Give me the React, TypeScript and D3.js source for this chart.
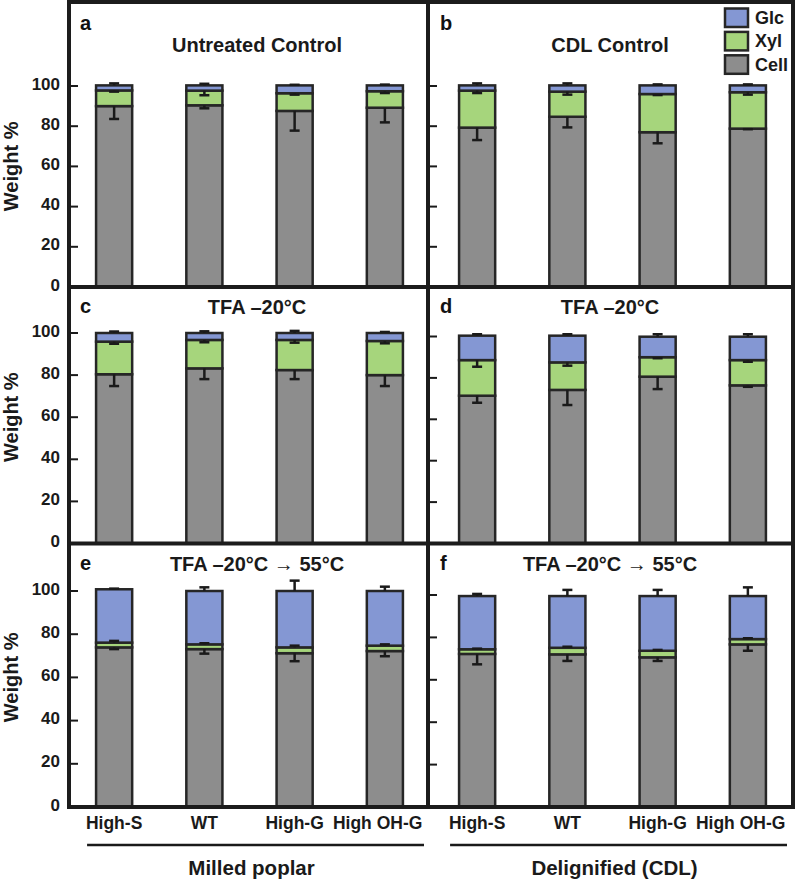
import React from "react";
import * as d3 from "d3";

const categories = ["High-S", "WT", "High-G", "High OH-G"];
const panelLetters = ["a", "b", "c", "d", "e", "f"];
const panelTitles = [
  "Untreated Control",
  "CDL Control",
  "TFA \u201320\u00B0C",
  "TFA \u201320\u00B0C",
  "TFA \u201320\u00B0C \u2192 55\u00B0C",
  "TFA \u201320\u00B0C \u2192 55\u00B0C",
];
const groupLabels = ["Milled poplar", "Delignified (CDL)"];
const seriesNames = ["Glc", "Xyl", "Cell"];
const yTicks = [0, 20, 40, 60, 80, 100];

// segment values (weight %) per panel, per category
const cellValues = [
  [90.0, 90.4, 87.6, 89.2],
  [79.3, 84.7, 77.0, 78.8],
  [80.4, 83.2, 82.4, 80.0],
  [71.4, 74.2, 80.6, 76.4],
  [73.9, 73.1, 71.2, 72.2],
  [72.2, 72.0, 70.6, 76.7],
];
const xylValues = [
  [7.8, 7.3, 8.8, 8.2],
  [18.4, 12.5, 19.0, 18.1],
  [15.5, 13.5, 14.3, 16.2],
  [17.2, 13.3, 9.4, 12.2],
  [2.2, 2.2, 2.7, 2.5],
  [2.2, 3.1, 3.1, 2.5],
];
const glcValues = [
  [2.5, 2.6, 3.9, 2.9],
  [2.6, 3.1, 4.3, 3.4],
  [4.1, 3.3, 3.3, 3.8],
  [11.8, 12.9, 9.9, 11.3],
  [24.7, 24.7, 26.1, 25.3],
  [25.1, 24.4, 25.8, 20.3],
];
// error bars (signed: negative drawn downward, positive upward)
const cellErrors = [
  [-6.4, -1.5, -9.8, -7.3],
  [-6.2, -5.3, -5.5, -0.3],
  [-5.6, -5.1, -4.3, -5.2],
  [-3.4, -7.3, -6.0, -0.7],
  [-0.8, -2.1, -3.7, -2.4],
  [-4.9, -3.1, -1.7, -3.0],
];
const xylErrors = [
  [-0.6, -2.3, -0.7, -0.9],
  [-1.2, -1.5, -0.5, -1.2],
  [-1.0, -1.1, -1.3, -1.1],
  [-3.2, -1.6, -0.5, -0.8],
  [0.8, 0.5, 0.8, 0.6],
  [0.3, 0.5, 0.4, 0.4],
];
const glcErrors = [
  [1.0, 0.8, 0.3, 0.4],
  [1.0, 1.0, 0.5, 0.5],
  [0.7, 0.8, 1.0, 0.5],
  [0.7, 0.7, 1.2, 1.2],
  [0.3, 1.7, 4.8, 2.0],
  [1.0, 2.9, 2.9, 4.1],
];

const COLORS: Record<string, string> = {
  Glc: "#8497d3",
  Xyl: "#a6d57c",
  Cell: "#8d8d8d",
};
const STROKE = "#262626";
const FONT = "'Liberation Sans', Arial, Helvetica, sans-serif";

// layout
const W = 797;
const H = 879;
const columns = [
  { x0: 69, x1: 430, axisX: 69, titleX: 257, letterX: 80 },
  { x0: 432, x1: 793, axisX: 428, titleX: 610, letterX: 440 },
];
const rows = [
  { yTop: 2, letterY: 30, titleY: 52, y0: [287, 287], y100: [86, 86] },
  { yTop: 287, letterY: 313, titleY: 314, y0: [543.5, 543.5], y100: [333, 336.5] },
  { yTop: 543.5, letterY: 570, titleY: 571, y0: [807, 807], y100: [591, 595] },
];

function Panel({ p }: { p: number }) {
  const col = columns[p % 2];
  const row = rows[Math.floor(p / 2)];
  const x = d3
    .scaleBand<string>()
    .domain(categories)
    .range([col.x0, col.x1])
    .paddingInner(0.6)
    .paddingOuter(0.3);
  const y = d3
    .scaleLinear()
    .domain([0, 100])
    .range([row.y0[p % 2], row.y100[p % 2]]);
  const bw = x.bandwidth();
  const stack = categories.map((c, i) => {
    const cell = cellValues[p][i];
    const xyl = xylValues[p][i];
    const glc = glcValues[p][i];
    return [
      { key: "Cell", lo: 0, hi: cell, err: cellErrors[p][i] },
      { key: "Xyl", lo: cell, hi: cell + xyl, err: xylErrors[p][i] },
      { key: "Glc", lo: cell + xyl, hi: cell + xyl + glc, err: glcErrors[p][i] },
    ];
  });
  return (
    <g>
      {categories.map((c, i) => (
        <g key={c}>
          {stack[i].map((s) => (
            <rect
              key={s.key}
              x={x(c)!}
              width={bw}
              y={y(s.hi)}
              height={y(s.lo) - y(s.hi)}
              fill={COLORS[s.key]}
              stroke={STROKE}
              strokeWidth={2.5}
            />
          ))}
          {stack[i].map((s) => {
            const cx = x(c)! + bw / 2;
            const yA = y(s.hi);
            const yB = y(s.hi + s.err);
            return (
              <g key={"e" + s.key} stroke="#1a1a1a" strokeWidth={2.5}>
                <line x1={cx} x2={cx} y1={yA} y2={yB} />
                <line x1={cx - 5} x2={cx + 5} y1={yB} y2={yB} />
              </g>
            );
          })}
        </g>
      ))}
      {yTicks.map((t) => (
        <line
          key={"t" + t}
          x1={col.axisX + 2}
          x2={col.axisX + 9}
          y1={y(t)}
          y2={y(t)}
          stroke="#1a1a1a"
          strokeWidth={2}
        />
      ))}
      {p % 2 === 0 &&
        yTicks.map((t) => (
          <text
            key={"l" + t}
            x={60}
            y={y(t) - 2}
            textAnchor="end"
            dominantBaseline="central"
            fontSize={17}
            fontWeight="bold"
            fontFamily={FONT}
            fill="#1a1a1a"
          >
            {t}
          </text>
        ))}
      {p % 2 === 0 && (
        <text
          transform={`translate(11,${y(60)}) rotate(-90)`}
          textAnchor="middle"
          dominantBaseline="central"
          fontSize={20}
          fontWeight="bold"
          fontFamily={FONT}
          fill="#1a1a1a"
        >
          Weight %
        </text>
      )}
      <text
        x={col.letterX}
        y={row.letterY}
        fontSize={20}
        fontWeight="bold"
        fontFamily={FONT}
        fill="#111"
      >
        {panelLetters[p]}
      </text>
      <text
        x={col.titleX}
        y={row.titleY}
        textAnchor="middle"
        fontSize={20}
        fontWeight="bold"
        fontFamily={FONT}
        fill="#1a1a1a"
      >
        {panelTitles[p]}
      </text>
      {p >= 4 &&
        categories.map((c) => {
          const lw = c.length * 10.3;
          let cx = x(c)! + bw / 2;
          if (cx + lw / 2 > col.x1 - 6) cx = col.x1 - 6 - lw / 2;
          return (
            <text
              key={"c" + c}
              x={cx}
              y={829}
              textAnchor="middle"
              fontSize={17.5}
              fontWeight="bold"
              fontFamily={FONT}
              fill="#1a1a1a"
            >
              {c}
            </text>
          );
        })}
      {p >= 4 && (
        <g>
          <line
            x1={x(categories[0])! - 9}
            x2={col.x1 - 6}
            y1={845}
            y2={845}
            stroke="#1a1a1a"
            strokeWidth={2.5}
          />
          <text
            x={(x(categories[0])! - 9 + col.x1 - 6) / 2 - 4}
            y={875}
            textAnchor="middle"
            fontSize={20.5}
            fontWeight="bold"
            fontFamily={FONT}
            fill="#1a1a1a"
          >
            {groupLabels[p % 2]}
          </text>
        </g>
      )}
    </g>
  );
}

function Legend() {
  return (
    <g>
      {seriesNames.map((s, i) => (
        <g key={s}>
          <rect
            x={725}
            y={8.5 + i * 23.4}
            width={23}
            height={18.5}
            fill={COLORS[s]}
            stroke={STROKE}
            strokeWidth={2.5}
          />
          <text
            x={755}
            y={17.8 + i * 23.4}
            dominantBaseline="central"
            fontSize={18}
            fontWeight="bold"
            fontFamily={FONT}
            fill="#1a1a1a"
          >
            {s}
          </text>
        </g>
      ))}
    </g>
  );
}

export default function App() {
  const frame = "#1c1c1c";
  return (
    <svg
      width={W}
      height={H}
      viewBox={`0 0 ${W} ${H}`}
      style={{ position: "absolute", left: 0, top: 0, background: "#fff" }}
    >
      <rect x={0} y={0} width={W} height={H} fill="#fff" />
      {panelLetters.map((_, p) => (
        <Panel key={p} p={p} />
      ))}
      <Legend />
      <g stroke={frame} strokeWidth={4}>
        <line x1={69} x2={69} y1={0} y2={809} />
        <line x1={428} x2={428} y1={0} y2={809} />
        <line x1={793} x2={793} y1={0} y2={809} />
        {[2, 287, 543.5, 807].map((yy) => (
          <line key={yy} x1={67} x2={795} y1={yy} y2={yy} />
        ))}
      </g>
    </svg>
  );
}
